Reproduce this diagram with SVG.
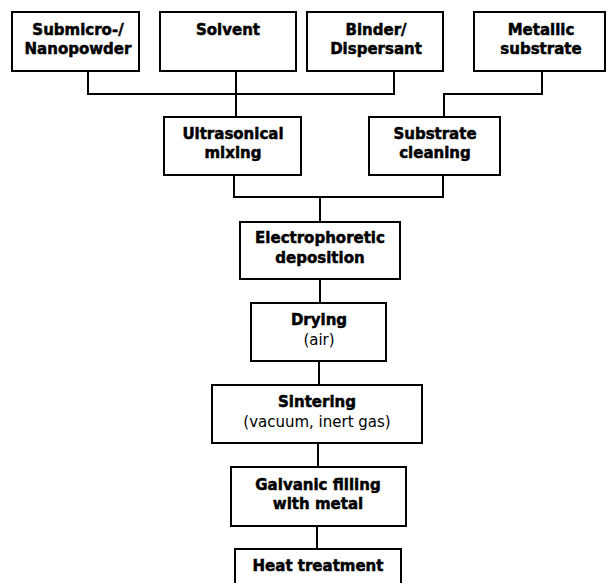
<svg xmlns="http://www.w3.org/2000/svg" width="608" height="583" viewBox="0 0 608 583">
<style>
.box{fill:#fff;stroke:#000;stroke-width:2}
.ln{fill:none;stroke:#000;stroke-width:2}
text{font-family:"DejaVu Sans","Verdana",sans-serif;font-size:15px;text-anchor:middle;fill:#000}
.b{font-weight:bold;stroke:#000;stroke-width:0.5}
</style>
<rect width="608" height="583" fill="#fff"/>
<g id="connectors">
<path class="ln" d="M88,71 V94 H394 V71"/>
<path class="ln" d="M236,71 V117"/>
<path class="ln" d="M542,71 V94 H444 V117"/>
<path class="ln" d="M234,175 V197 H443 V175"/>
<path class="ln" d="M320,197 V222"/>
<path class="ln" d="M320,279 V303"/>
<path class="ln" d="M319,361 V385"/>
<path class="ln" d="M318,443 V467"/>
<path class="ln" d="M317,526 V549"/>
</g>
<g id="n-nanopowder">
<rect class="box" x="12" y="12" width="127" height="59"/>
<text class="b" x="78" y="35">Submicro-/</text>
<text class="b" x="78" y="54">Nanopowder</text>
</g>
<g id="n-solvent">
<rect class="box" x="160" y="12" width="136" height="59"/>
<text class="b" x="228" y="35">Solvent</text>
</g>
<g id="n-binder">
<rect class="box" x="307" y="12" width="136" height="59"/>
<text class="b" x="376" y="35">Binder/</text>
<text class="b" x="376" y="54">Dispersant</text>
</g>
<g id="n-metallic">
<rect class="box" x="474" y="12" width="131" height="59"/>
<text class="b" x="541" y="35">Metallic</text>
<text class="b" x="541" y="54">substrate</text>
</g>
<g id="n-ultrasonic">
<rect class="box" x="164" y="117" width="137" height="58"/>
<text class="b" x="233" y="139">Ultrasonical</text>
<text class="b" x="233" y="158">mixing</text>
</g>
<g id="n-cleaning">
<rect class="box" x="369" y="117" width="131" height="58"/>
<text class="b" x="435" y="139">Substrate</text>
<text class="b" x="435" y="158">cleaning</text>
</g>
<g id="n-epd">
<rect class="box" x="240" y="222" width="160" height="57"/>
<text class="b" x="320" y="243">Electrophoretic</text>
<text class="b" x="320" y="263">deposition</text>
</g>
<g id="n-drying">
<rect class="box" x="251" y="303" width="135" height="58"/>
<text class="b" x="319" y="325">Drying</text>
<text x="319" y="345">(air)</text>
</g>
<g id="n-sintering">
<rect class="box" x="212" y="385" width="210" height="58"/>
<text class="b" x="317" y="407">Sintering</text>
<text x="317" y="427">(vacuum, inert gas)</text>
</g>
<g id="n-galvanic">
<rect class="box" x="231" y="467" width="175" height="59"/>
<text class="b" x="318" y="490">Galvanic filling</text>
<text class="b" x="318" y="509">with metal</text>
</g>
<g id="n-heat">
<rect class="box" x="235" y="549" width="166" height="40"/>
<text class="b" x="318" y="571">Heat treatment</text>
</g>
</svg>
